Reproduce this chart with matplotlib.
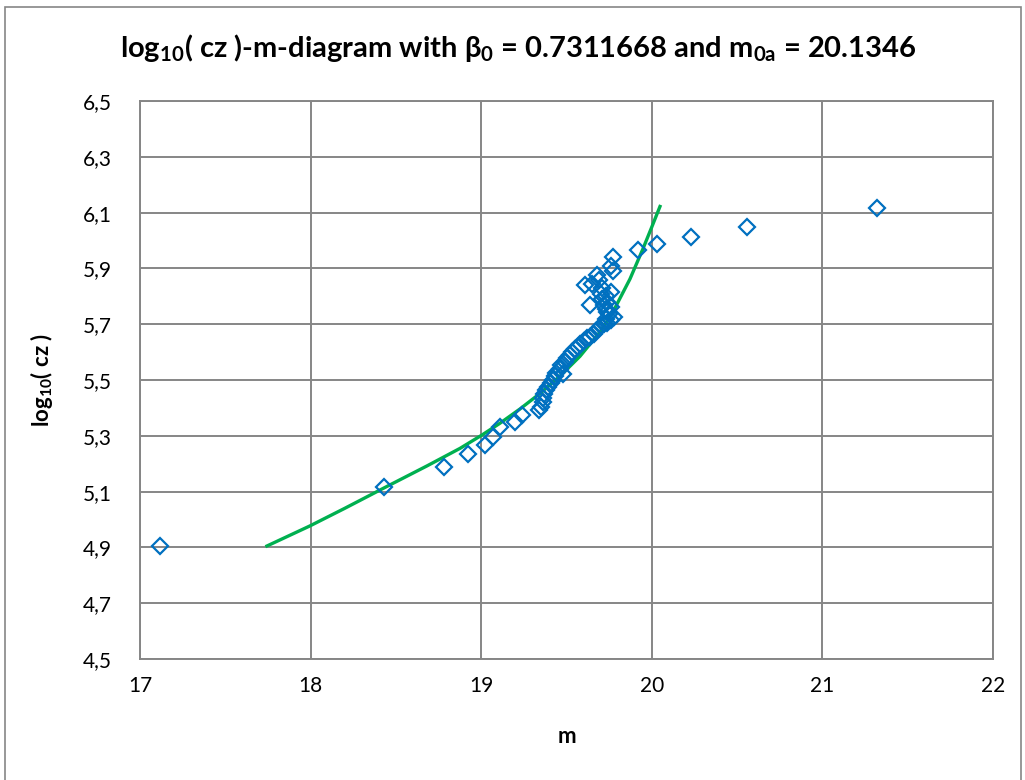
import numpy as np
import matplotlib
matplotlib.use("Agg")
import matplotlib.pyplot as plt
from matplotlib.ticker import FuncFormatter
from matplotlib.patches import Rectangle

plt.rcParams['font.family'] = ['Lato', 'DejaVu Sans']
plt.rcParams['mathtext.fontset'] = 'custom'
plt.rcParams['mathtext.rm'] = 'Lato:bold'
plt.rcParams['mathtext.bf'] = 'Lato:bold'
plt.rcParams['mathtext.it'] = 'Lato:bold'
plt.rcParams['mathtext.default'] = 'bf'

# observed galaxies: apparent magnitude m and log10(cz)
m_obs = [17.12, 18.43, 18.78, 18.92, 19.02, 19.07, 19.11, 19.20, 19.24, 19.34,
         19.35, 19.36, 19.36, 19.37, 19.38, 19.39, 19.41, 19.42, 19.43, 19.44,
         19.48, 19.46, 19.47, 19.49, 19.50, 19.52, 19.53, 19.55, 19.57, 19.58,
         19.60, 19.62, 19.64, 19.66, 19.67, 19.69, 19.70, 19.72, 19.74, 19.76,
         19.78, 19.73, 19.75, 19.74, 19.73, 19.76, 19.72, 19.74, 19.71, 19.73,
         19.70, 19.76, 19.71, 19.64, 19.61, 19.65, 19.69, 19.68, 19.77, 19.76,
         19.77, 19.92, 20.03, 20.23, 20.56, 21.32]
logcz_obs = [4.905, 5.115, 5.188, 5.233, 5.268, 5.296, 5.330, 5.349, 5.375, 5.392,
             5.405, 5.420, 5.435, 5.450, 5.465, 5.475, 5.490, 5.500, 5.515, 5.525,
             5.520, 5.540, 5.555, 5.565, 5.580, 5.590, 5.600, 5.610, 5.620, 5.630,
             5.640, 5.650, 5.655, 5.665, 5.675, 5.685, 5.695, 5.700, 5.705, 5.715,
             5.725, 5.720, 5.735, 5.745, 5.755, 5.760, 5.770, 5.780, 5.790, 5.800,
             5.810, 5.815, 5.830, 5.770, 5.840, 5.845, 5.860, 5.875, 5.890, 5.910,
             5.940, 5.966, 5.987, 6.013, 6.050, 6.115]

# model curve
m_fit = [17.744, 17.996, 18.20, 18.430, 18.682, 18.876, 19.005, 19.110, 19.227, 19.345,
         19.462, 19.579, 19.696, 19.773, 19.872, 19.948, 20.001, 20.048]
logcz_fit = [4.905, 4.977, 5.040, 5.113, 5.192, 5.255, 5.303, 5.345, 5.396, 5.452,
             5.514, 5.585, 5.672, 5.745, 5.862, 5.970, 6.050, 6.122]

fig = plt.figure(figsize=(10.25, 7.8), dpi=100)
ax = fig.add_axes([140/1025, 1-659/780, (993-140)/1025, (659-101)/780])

ax.plot(m_fit, logcz_fit, color='#00B050', linewidth=2.4, zorder=2,
        solid_joinstyle='round')
ax.plot(m_obs, logcz_obs, linestyle='none', marker='D', markersize=8,
        markerfacecolor='none', markeredgecolor='#0070C0', markeredgewidth=1.6, zorder=3)

ax.set_xlim(17, 22)
ax.set_ylim(4.5, 6.5)
ax.set_xticks(np.arange(17, 23, 1))
ax.set_yticks(np.arange(4.5, 6.51, 0.2))
ax.xaxis.set_major_formatter(FuncFormatter(lambda v, p: f"{v:.0f}"))
ax.yaxis.set_major_formatter(FuncFormatter(lambda v, p: f"{v:.1f}".replace('.', ',')))
ax.grid(True, color='#868686', linewidth=1.4)
ax.set_axisbelow(True)
for s in ax.spines.values():
    s.set_color('#868686')
    s.set_linewidth(1.4)
ax.tick_params(length=0, labelsize=15, colors='black')
ax.tick_params(axis='y', pad=20)
ax.tick_params(axis='x', pad=12)

ax.set_xlabel('m', fontsize=16, fontweight='bold', labelpad=22)
ax.set_ylabel('log$_{10}$( cz )', fontsize=16, fontweight='bold', labelpad=20)

fig.text(0.506, 1-48/780, 'log$_{10}$( cz )-m-diagram with β$_{0}$ = 0.7311668 and m$_{0a}$ = 20.1346',
         ha='center', va='center', fontsize=21, fontweight='bold')

fig.patches.append(Rectangle((5/1025, -0.01), 1 - 9/1025, 1 - 7/780 + 0.01, transform=fig.transFigure,
                             fill=False, edgecolor='#868686', linewidth=1.2))

fig.savefig('out.png', dpi=100)
